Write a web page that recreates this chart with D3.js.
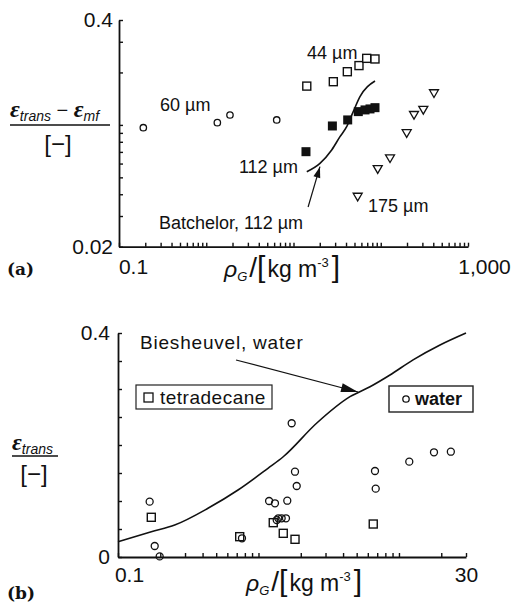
<!DOCTYPE html>
<html>
<head>
<meta charset="utf-8">
<script src="https://cdn.jsdelivr.net/npm/d3@7"></script>
<style>
  body { margin: 0; background: #fff; }
  text { font-family: "Liberation Sans", Arial, sans-serif; fill: #111; }
</style>
</head>
<body>
<script>
// ---- data, panel (a) ----
// each point is [rho_G, eps_trans - eps_mf]
const circles60 = [[0.19, 0.0964], [1.34, 0.103], [1.87, 0.114], [6.42, 0.1068]];
const squares44 = [[14.2, 0.167], [28.6, 0.177], [41.4, 0.202], [56.3, 0.219], [69.0, 0.241], [85.9, 0.239]];
const filled112 = [[13.9, 0.0702], [27.9, 0.0986], [41.8, 0.1068], [55.3, 0.1192], [66.0, 0.1219], [75.3, 0.1235], [85.9, 0.1256]];
const triangles175 = [[54.4, 0.0387], [92.3, 0.0557], [127.7, 0.0643], [198.3, 0.0896], [240.5, 0.114], [307.4, 0.1219], [407.5, 0.1519]];
const batchelor = [[14.2, 0.0539], [20.1, 0.0602], [27.4, 0.0718], [34.1, 0.0856], [40.7, 0.0977], [48.4, 0.1192], [57.8, 0.1452], [85.9, 0.1787]];
const labelsA = [
  {text: '60 \u00b5m', x: 0.295, y: 0.1302, anchor: 'start'},
  {text: '44 \u00b5m', x: 14.28, y: 0.2588, anchor: 'start'},
  {text: '112 \u00b5m', x: 11.26, y: 0.0574, anchor: 'end'},
  {text: '175 \u00b5m', x: 71.4, y: 0.0342, anchor: 'start'},
  {text: 'Batchelor, 112 \u00b5m', x: 0.2874, y: 0.0274, anchor: 'start'}
];
const arrowA = [[14.7, 0.0338], [20.1, 0.0576]];
const xTicksA = [0.1, 1000];
const yTicksA = [0.02, 0.4];

// ---- data, panel (b) ----
// each point is [rho_G, eps_trans]
const water = [[0.168, 0.0988], [0.1825, 0.0196], [0.198, 0.001], [0.763, 0.0334], [1.19, 0.1], [1.31, 0.0959],
  [1.603, 0.1005], [1.348, 0.066], [1.384, 0.0691], [1.462, 0.0691], [1.569, 0.0691], [1.723, 0.2388],
  [1.819, 0.1523], [1.871, 0.1268], [6.75, 0.1536], [6.83, 0.122], [11.84, 0.1702], [17.75, 0.187], [23.4, 0.188]];
const tetradecane = [[0.1726, 0.0709], [0.735, 0.0363], [1.274, 0.0613], [1.501, 0.0423], [1.82, 0.0316], [6.56, 0.0589]];
const biesheuvel = [[0.1, 0.0273], [0.1726, 0.0452], [0.2533, 0.0571], [0.437, 0.087], [0.715, 0.1196], [1.168, 0.1584],
  [1.50, 0.179], [2.59, 0.2388], [4.48, 0.2863], [6.22, 0.304], [8.63, 0.325], [12.6, 0.352], [19.6, 0.3786], [30, 0.4]];
const labelB = {text: 'Biesheuvel,  water', x: 0.1434, y: 0.3839};
const arrowB = [[0.692, 0.3518], [5.11, 0.2946]];
const xTicksB = [0.1, 30];
const yTicksB = [0, 0.4];

const width = 512, height = 607;
const svg = d3.select('body').append('svg')
  .attr('width', width)
  .attr('height', height)
  .style('background', '#fff');

// minor ticks for a log axis
function logTicks(lo, hi) {
  const t = [];
  for (let e = Math.floor(Math.log10(lo)); e <= Math.ceil(Math.log10(hi)); e++) {
    for (let k = 1; k <= 9; k++) {
      const v = +(k * Math.pow(10, e)).toPrecision(3);
      if (v >= lo * 0.999 && v <= hi * 1.001) t.push(v);
    }
  }
  return t;
}

function styleAxis(g) {
  g.select('.domain').attr('stroke', '#111').attr('stroke-width', 1.8);
  g.selectAll('.tick line').attr('stroke', '#111').attr('stroke-width', 1.4);
  g.selectAll('.tick text').style('font-size', '21px').attr('fill', '#111');
}

function arrow(x1, y1, x2, y2, len, half) {
  svg.append('line')
    .attr('x1', x1).attr('y1', y1).attr('x2', x2).attr('y2', y2)
    .attr('stroke', '#111').attr('stroke-width', 1.2);
  const a = Math.atan2(y2 - y1, x2 - x1);
  const bx = x2 - len * Math.cos(a), by = y2 - len * Math.sin(a);
  const px = -Math.sin(a) * half, py = Math.cos(a) * half;
  svg.append('path')
    .attr('d', `M${x2},${y2}L${bx + px},${by + py}L${bx - px},${by - py}Z`)
    .attr('fill', '#111');
}

// ================= panel (a) =================
const xA = d3.scaleLog().domain([0.1, 1000]).range([119, 468]);
const yA = d3.scaleLog().domain([0.02, 0.4]).range([246.7, 20]);

svg.append('g')
  .attr('transform', `translate(0,${yA(0.02)})`)
  .call(d3.axisBottom(xA).tickValues(logTicks(0.1, 1000)).tickSize(-4).tickSizeOuter(0).tickPadding(12)
    .tickFormat(d => xTicksA.includes(d) ? d3.format(',')(d) : ''))
  .call(styleAxis)
  .call(g => g.selectAll('.tick text').attr('dx', d => d === 1000 ? 16 : 14));

svg.append('g')
  .attr('transform', `translate(${xA(0.1)},0)`)
  .call(d3.axisLeft(yA).tickValues(logTicks(0.02, 0.4)).tickSize(-4).tickSizeOuter(0).tickPadding(6)
    .tickFormat(d => yTicksA.includes(d) ? String(d) : ''))
  .call(styleAxis);

svg.append('path')
  .datum(batchelor)
  .attr('fill', 'none')
  .attr('stroke', '#111')
  .attr('stroke-width', 1.6)
  .attr('d', d3.line().x(d => xA(d[0])).y(d => yA(d[1])).curve(d3.curveMonotoneX));

svg.append('g').selectAll('circle')
  .data(circles60)
  .join('circle')
  .attr('cx', d => xA(d[0])).attr('cy', d => yA(d[1])).attr('r', 3.2)
  .attr('fill', 'none').attr('stroke', '#111').attr('stroke-width', 1.3);

svg.append('g').selectAll('rect')
  .data(squares44)
  .join('rect')
  .attr('x', d => xA(d[0]) - 4).attr('y', d => yA(d[1]) - 4).attr('width', 8).attr('height', 8)
  .attr('fill', '#fff').attr('stroke', '#111').attr('stroke-width', 1.4);

svg.append('g').selectAll('rect')
  .data(filled112)
  .join('rect')
  .attr('x', d => xA(d[0]) - 4.5).attr('y', d => yA(d[1]) - 4.5).attr('width', 9).attr('height', 9)
  .attr('fill', '#111');

svg.append('g').selectAll('path')
  .data(triangles175)
  .join('path')
  .attr('transform', d => `translate(${xA(d[0])},${yA(d[1])})`)
  .attr('d', 'M-4.5,-3.5L4.5,-3.5L0,4.2Z')
  .attr('fill', '#fff').attr('stroke', '#111').attr('stroke-width', 1.3);

svg.append('g').selectAll('text')
  .data(labelsA)
  .join('text')
  .attr('x', d => xA(d.x)).attr('y', d => yA(d.y)).attr('dy', '0.35em')
  .attr('text-anchor', d => d.anchor)
  .style('font-size', '18px')
  .text(d => d.text);

arrow(xA(arrowA[0][0]), yA(arrowA[0][1]), xA(arrowA[1][0]), yA(arrowA[1][1]), 11, 3.5);

// y label (a)
const ylA = svg.append('text').attr('x', 10).attr('y', 117);
ylA.append('tspan').text('\u03b5').style('font-family', '"Liberation Serif", serif').style('font-style', 'italic').style('font-weight', 'bold').style('font-size', '24px');
ylA.append('tspan').text('trans').style('font-style', 'italic').style('font-size', '14px').attr('dy', 4);
ylA.append('tspan').text(' \u2212 ').style('font-size', '20px').attr('dy', -4);
ylA.append('tspan').text('\u03b5').style('font-family', '"Liberation Serif", serif').style('font-style', 'italic').style('font-weight', 'bold').style('font-size', '24px');
ylA.append('tspan').text('mf').style('font-style', 'italic').style('font-size', '14px').attr('dy', 4);
svg.append('line').attr('x1', 10).attr('x2', 110).attr('y1', 125).attr('y2', 125).attr('stroke', '#111').attr('stroke-width', 1.5);
svg.append('text').attr('x', 58).attr('y', 152).attr('text-anchor', 'middle').style('font-size', '24px').text('[\u2212]');

// x label, used for both panels
function xLabel(x, y) {
  const t = svg.append('text').attr('x', x).attr('y', y);
  t.append('tspan').text('\u03c1').style('font-style', 'italic').style('font-size', '23px');
  t.append('tspan').text('G').style('font-style', 'italic').style('font-size', '13px').attr('dy', 4);
  t.append('tspan').text('/').style('font-size', '28px').attr('dy', -4).attr('dx', 2);
  t.append('tspan').text('[').style('font-size', '30px');
  t.append('tspan').text('kg m').style('font-size', '23px').attr('dx', 2);
  t.append('tspan').text('-3').style('font-size', '13px').attr('dy', -10);
  t.append('tspan').text(']').style('font-size', '30px').attr('dy', 10).attr('dx', 3);
}
xLabel(224, 277);

svg.append('text').attr('x', 7).attr('y', 275)
  .style('font-family', '"DejaVu Serif", serif').style('font-weight', 'bold').style('font-size', '17px')
  .text('(a)');

// ================= panel (b) =================
const xB = d3.scaleLog().domain([0.1, 30]).range([118, 466]);
const yB = d3.scaleLinear().domain([0, 0.4]).range([557, 333]);

svg.append('g')
  .attr('transform', `translate(0,${yB(0)})`)
  .call(d3.axisBottom(xB).tickValues(logTicks(0.1, 30)).tickSize(-4).tickSizeOuter(0).tickPadding(10)
    .tickFormat(d => xTicksB.includes(d) ? String(d) : ''))
  .call(styleAxis)
  .call(g => g.selectAll('.tick text').attr('dx', d => d === 0.1 ? 11 : 0));

svg.append('g')
  .attr('transform', `translate(${xB(0.1)},0)`)
  .call(d3.axisLeft(yB).tickValues(d3.range(0, 0.401, 0.05)).tickSize(-4).tickSizeOuter(0).tickPadding(8)
    .tickFormat(d => yTicksB.some(v => Math.abs(v - d) < 1e-9) ? String(d3.format('.1~f')(d)) : ''))
  .call(styleAxis);

svg.append('path')
  .datum(biesheuvel)
  .attr('fill', 'none')
  .attr('stroke', '#111')
  .attr('stroke-width', 1.6)
  .attr('d', d3.line().x(d => xB(d[0])).y(d => yB(d[1])).curve(d3.curveMonotoneX));

svg.append('g').selectAll('rect')
  .data(tetradecane)
  .join('rect')
  .attr('x', d => xB(d[0]) - 4).attr('y', d => yB(d[1]) - 4).attr('width', 8).attr('height', 8)
  .attr('fill', 'none').attr('stroke', '#111').attr('stroke-width', 1.4);

svg.append('g').selectAll('circle')
  .data(water)
  .join('circle')
  .attr('cx', d => xB(d[0])).attr('cy', d => yB(d[1])).attr('r', 3.5)
  .attr('fill', 'none').attr('stroke', '#111').attr('stroke-width', 1.3);

svg.append('text')
  .attr('x', xB(labelB.x)).attr('y', yB(labelB.y)).attr('dy', '0.35em')
  .style('font-size', '19px').style('letter-spacing', '0.8px')
  .text(labelB.text);

arrow(xB(arrowB[0][0]), yB(arrowB[0][1]), xB(arrowB[1][0]), yB(arrowB[1][1]), 17, 4.5);

// legend boxes
const legT = svg.append('g').attr('transform', 'translate(136,385)');
legT.append('rect').attr('width', 136).attr('height', 24).attr('fill', '#fff').attr('stroke', '#222').attr('stroke-width', 1.2);
legT.append('rect').attr('x', 8).attr('y', 8).attr('width', 9).attr('height', 9).attr('fill', 'none').attr('stroke', '#111').attr('stroke-width', 1.3);
legT.append('text').attr('x', 24).attr('y', 12).attr('dy', '0.35em').style('font-size', '19px').style('letter-spacing', '0.5px').text('tetradecane');

const legW = svg.append('g').attr('transform', 'translate(389,386)');
legW.append('rect').attr('width', 84).attr('height', 26).attr('fill', '#fff').attr('stroke', '#222').attr('stroke-width', 1.4);
legW.append('circle').attr('cx', 17).attr('cy', 13).attr('r', 3.2).attr('fill', 'none').attr('stroke', '#111').attr('stroke-width', 1.3);
legW.append('text').attr('x', 26).attr('y', 13).attr('dy', '0.35em').style('font-size', '18px').style('font-weight', 'bold').text('water');

// y label (b)
const ylB = svg.append('text').attr('x', 12).attr('y', 450);
ylB.append('tspan').text('\u03b5').style('font-family', '"Liberation Serif", serif').style('font-style', 'italic').style('font-weight', 'bold').style('font-size', '24px');
ylB.append('tspan').text('trans').style('font-style', 'italic').style('font-size', '14px').attr('dy', 4);
svg.append('line').attr('x1', 12).attr('x2', 58).attr('y1', 456).attr('y2', 456).attr('stroke', '#111').attr('stroke-width', 1.5);
svg.append('text').attr('x', 34).attr('y', 482).attr('text-anchor', 'middle').style('font-size', '24px').text('[\u2212]');

xLabel(246, 591);

svg.append('text').attr('x', 7).attr('y', 599)
  .style('font-family', '"DejaVu Serif", serif').style('font-weight', 'bold').style('font-size', '17px')
  .text('(b)');
</script>
</body>
</html>
